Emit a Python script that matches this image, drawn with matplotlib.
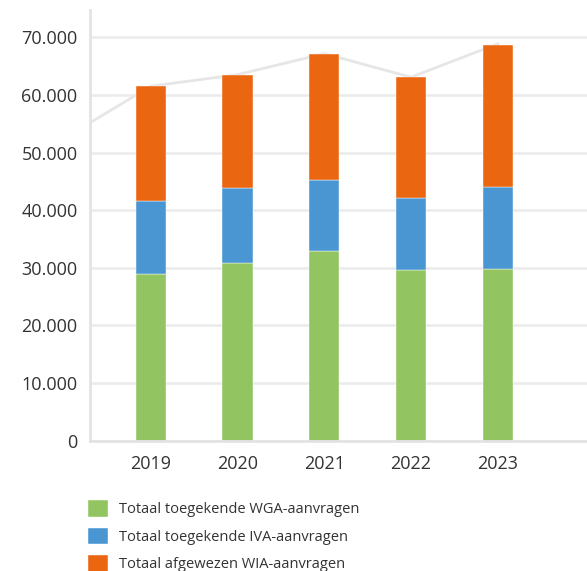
import numpy as np
import matplotlib.pyplot as plt
from matplotlib.ticker import FuncFormatter

plt.rcParams['font.family'] = ['Open Sans', 'DejaVu Sans']

years = [2019, 2020, 2021, 2022, 2023]
wga = [29000, 30850, 33000, 29700, 29800]
iva = [12600, 12950, 12200, 12500, 14200]
afgewezen = [19950, 19750, 22000, 20900, 24700]
# totaal, inclusief 2018 (links buiten beeld)
line_years = [2018, 2019, 2020, 2021, 2022, 2023]
line_totaal = [52500, 61550, 63550, 67200, 63100, 68900]

labels = ['Totaal toegekende WGA-aanvragen',
          'Totaal toegekende IVA-aanvragen',
          'Totaal afgewezen WIA-aanvragen']
colors = ['#92c462', '#4a96d2', '#eb6611']

fig = plt.figure(figsize=(5.87, 5.71), dpi=100)
ax = fig.add_axes([90/587, 1 - 440.7/571, 497/587, 430.7/571])

ax.plot(line_years, line_totaal, color='#e6e6e6', lw=2, zorder=1)

w = 0.35
bottom = np.zeros(len(years))
for vals, c, lab in zip([wga, iva, afgewezen], colors, labels):
    ax.bar(years, vals, w, bottom=bottom, color=c, label=lab, zorder=2,
           edgecolor='white', linewidth=0.3)
    bottom += np.array(vals)

ax.set_xlim(2018.297, 2024.03)
ax.set_ylim(0, 74770)
ax.set_yticks(range(0, 70001, 10000))
ax.yaxis.set_major_formatter(FuncFormatter(lambda v, p: f'{int(v):,}'.replace(',', '.')))
ax.set_xticks(years)
ax.grid(axis='y', color='#ebebeb', lw=1.8, zorder=0)
ax.set_axisbelow(True)
for s in ['top', 'right']:
    ax.spines[s].set_visible(False)
ax.spines['left'].set_color('#e3e3e3')
ax.spines['left'].set_linewidth(2)
ax.spines['bottom'].set_color('#e3e3e3')
ax.spines['bottom'].set_linewidth(2)
ax.tick_params(length=0, labelsize=13, colors='#333333')
ax.tick_params(axis='y', pad=9)
ax.tick_params(axis='x', pad=10)

fig.legend(loc='upper left', bbox_to_anchor=(88/587, 1 - 500/571), frameon=False,
           fontsize=10.5, handlelength=1.37, handleheight=1.37, handletextpad=0.75,
           labelspacing=0.72, borderpad=0, borderaxespad=0, labelcolor='#333333')

fig.savefig('out.png', dpi=100)
